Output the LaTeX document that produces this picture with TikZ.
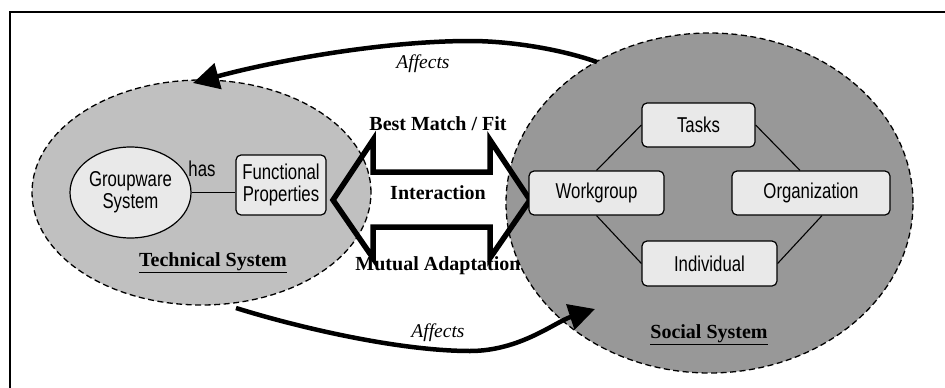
\documentclass[tikz,border=0pt]{standalone}
\usepackage{fontspec}
\setmainfont{Liberation Serif}
\newfontfamily\narrowsans[FakeStretch=0.78]{Liberation Sans}
\usetikzlibrary{shapes.geometric,arrows.meta,calc}
\definecolor{techgray}{HTML}{C0C0C0}
\definecolor{socgray}{HTML}{989898}
\definecolor{boxfill}{HTML}{E9E9E9}

\begin{document}
\begin{tikzpicture}[x=1pt,y=-1pt,
  system/.style={ellipse,draw,dash pattern=on 6pt off 3.5pt,line width=1.3pt,inner sep=0pt},
  unit/.style={draw,rounded corners=5pt,fill=boxfill,line width=1.2pt,inner sep=0pt,
    font=\narrowsans\fontsize{21.5}{22}\selectfont,align=center},
  link/.style={line width=1.1pt},
  affect/.style={line width=4.5pt,-{Triangle[length=26pt,width=26pt]}},
  sanslabel/.style={font=\narrowsans\fontsize{21.5}{22}\selectfont,anchor=base,inner sep=0pt},
  caption/.style={font=\bfseries\fontsize{20}{22}\selectfont,anchor=base,inner sep=0pt},
  slanted/.style={font=\itshape\fontsize{19.5}{22}\selectfont,anchor=base,inner sep=0pt}]
\useasboundingbox (0,0) rectangle (945,388);

% outer frame
\draw[line width=1.3pt] (10,388) -- (10,12) -- (945,12);

% the two systems
\node[system,fill=techgray,minimum width=339pt,minimum height=225pt] (tech) at (201.5,192.5) {};
\node[system,fill=socgray,minimum width=407pt,minimum height=340pt] (soc) at (709.5,203) {};

% "Affects" arrows
\coordinate (a1s) at (597,62);
\coordinate (a1m) at (470,41);
\coordinate (a1e) at (193,83);
\draw[affect] (a1s) .. controls (560,49) and (510,41) .. (a1m)
  .. controls (380,41) and (270,62) .. (a1e);
\coordinate (a2s) at (236,308);
\coordinate (a2m) at (470,351);
\coordinate (a2e) at (595,309);
\draw[affect] (a2s) .. controls (300,328) and (400,351) .. (a2m)
  .. controls (520,351) and (555,322) .. (a2e);
\node[slanted] (aff1) at (423,68) {Affects};
\node[slanted] (aff2) at (438,337) {Affects};

% interaction double arrow (outline only)
\draw[line width=5.5pt,miter limit=10]
  (333,200) -- (373,140) -- (373,172) -- (490,172) -- (490,140) -- (530,200)
  -- (490,258) -- (490,227) -- (373,227) -- (373,258) -- cycle;
\node[caption] (fit) at (438,130.5) {Best Match / Fit};
\node[caption] (inter) at (438,199) {Interaction};
\node[caption] (adapt) at (438,270) {Mutual Adaptation};

% technical system content
\node[ellipse,draw,fill=boxfill,line width=1.2pt,inner sep=0pt,minimum width=121pt,minimum height=91pt,
  font=\narrowsans\fontsize{21.5}{22}\selectfont,align=center] (gw) at (130.5,192.5) {Groupware\\System};
\node[unit,minimum width=90pt,minimum height=60pt] (fp) at (281,185) {Functional\\Properties};
\draw[link] (gw.east) -- (gw.east -| fp.west);
\node[sanslabel] (has) at (202,176) {has};
\node[caption] (techlbl) at (213,266.5) {\underline{Technical System}};

% social system content
\node[unit,minimum width=113pt,minimum height=44pt] (tasks) at (698.5,125) {Tasks};
\node[unit,minimum width=135pt,minimum height=44pt] (wg) at (596.5,193) {Workgroup};
\node[unit,minimum width=158pt,minimum height=44pt] (org) at (811,193) {Organization};
\node[unit,minimum width=135pt,minimum height=45pt] (ind) at (709.5,263.5) {Individual};
\draw[link] (wg.north) -- (tasks.west);
\draw[link] (tasks.east) -- ($(org.north)+(-11,0)$);
\draw[link] (wg.south) -- (ind.west);
\draw[link] ($(org.south)+(11,0)$) -- (ind.east);
\node[caption] (soclbl) at (709,338) {\underline{Social System}};
\end{tikzpicture}
\end{document}
